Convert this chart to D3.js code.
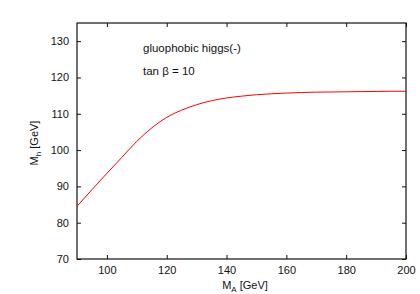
<!DOCTYPE html>
<html>
<head>
<meta charset="utf-8">
<script src="https://cdn.jsdelivr.net/npm/d3@7/dist/d3.min.js"></script>
<style>
  body { margin: 0; background: #fff; }
  text { font-family: "Liberation Sans", Arial, sans-serif; fill: #111; }
</style>
</head>
<body>
<script>
// M_A values [GeV]
var mA = [90, 95, 100, 105, 110, 115, 120, 125, 130, 135, 140, 145, 150,
          155, 160, 165, 170, 175, 180, 185, 190, 195, 200];
// M_h values [GeV], tan beta = 10
var mH = [84.5, 89.1, 93.6, 98.0, 102.4, 106.1, 109.0, 111.0, 112.5, 113.6, 114.35, 114.85, 115.25,
          115.5, 115.7, 115.85, 115.95, 116.0, 116.05, 116.1, 116.15, 116.2, 116.2];
var xTicks = [100, 120, 140, 160, 180, 200];
var yTicks = [70, 80, 90, 100, 110, 120, 130];

var width = 420, height = 294;
var margin = {left: 77, right: 14, top: 23, bottom: 35};

var svg = d3.select("body").append("svg").attr("width", width).attr("height", height);

var x = d3.scaleLinear().domain([90, 200]).range([margin.left, width - margin.right]);
var y = d3.scaleLinear().domain([70, 135]).range([height - margin.bottom, margin.top]);

//axes, ticks pointing inward
function styleAxis(g) {
  g.select(".domain").remove();
  g.selectAll(".tick line").attr("stroke", "#111");
  g.selectAll("text").style("font-size", "11px").attr("fill", "#111");
}

svg.append("g").attr("transform", "translate(0," + y.range()[0] + ")")
  .call(d3.axisBottom(x).tickValues(xTicks).tickSizeInner(-4).tickSizeOuter(0).tickPadding(7))
  .call(styleAxis);
svg.append("g").attr("transform", "translate(0," + y.range()[1] + ")")
  .call(d3.axisTop(x).tickValues(xTicks).tickSizeInner(-4).tickSizeOuter(0).tickFormat(""))
  .call(styleAxis);
svg.append("g").attr("transform", "translate(" + x.range()[0] + ",0)")
  .call(d3.axisLeft(y).tickValues(yTicks).tickSizeInner(-4).tickSizeOuter(0).tickPadding(8))
  .call(styleAxis);
svg.append("g").attr("transform", "translate(" + x.range()[1] + ",0)")
  .call(d3.axisRight(y).tickValues(yTicks).tickSizeInner(-4).tickSizeOuter(0).tickFormat(""))
  .call(styleAxis);

//frame
svg.append("rect")
  .attr("x", x.range()[0]).attr("y", y.range()[1])
  .attr("width", x.range()[1] - x.range()[0]).attr("height", y.range()[0] - y.range()[1])
  .attr("fill", "none").attr("stroke", "#111").attr("stroke-width", 1.2);

//curve
var line = d3.line()
  .x(function(d, i) { return x(mA[i]); })
  .y(function(d) { return y(d); })
  .curve(d3.curveMonotoneX);

svg.append("path").datum(mH)
  .attr("d", line)
  .attr("fill", "none").attr("stroke", "#ff0000").attr("stroke-width", 1);

//labels
var xl = svg.append("text").attr("x", 245).attr("y", 289).attr("text-anchor", "middle").style("font-size", "11px");
xl.append("tspan").text("M");
xl.append("tspan").attr("dy", 3).style("font-size", "8px").text("A");
xl.append("tspan").attr("dy", -3).text(" [GeV]");

var yl = svg.append("text").attr("transform", "translate(38,143) rotate(-90)")
  .attr("text-anchor", "middle").style("font-size", "11px");
yl.append("tspan").text("M");
yl.append("tspan").attr("dy", 3).style("font-size", "8px").text("h");
yl.append("tspan").attr("dy", -3).text(" [GeV]");

svg.append("text").attr("x", 143).attr("y", 52).style("font-size", "11.5px").text("gluophobic higgs(-)");
svg.append("text").attr("x", 143).attr("y", 75).style("font-size", "11.5px").text("tan \u03b2 = 10");
</script>
</body>
</html>
